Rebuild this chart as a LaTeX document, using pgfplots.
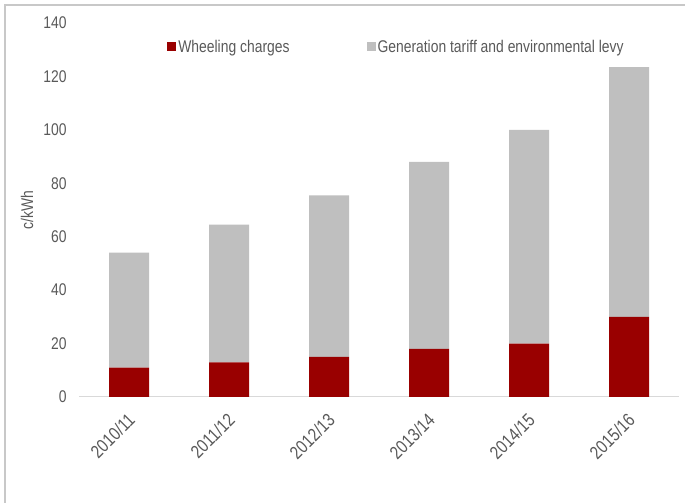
\documentclass[border=0pt]{standalone}
\usepackage{pgfplots}
\pgfplotsset{compat=1.18}
\usepackage{fontspec}
\setmainfont{Liberation Sans}[FakeStretch=0.82]
\definecolor{wred}{HTML}{990000}
\definecolor{ggray}{HTML}{BFBFBF}
\definecolor{txt}{HTML}{595959}
\definecolor{frame}{HTML}{C8C8C8}
\begin{document}
\begin{tikzpicture}[x=1bp,y=1bp]
\useasboundingbox (0,0) rectangle (685,503);
\draw[frame, line width=2.2bp] (5,0) -- (5,498) -- (685,498);
\begin{axis}[
  at={(79bp,106bp)}, anchor=south west,
  scale only axis, width=600bp, height=374bp,
  ybar stacked, bar width=0.4,
  xmin=-0.5, xmax=5.5, ymin=0, ymax=140,
  xtick={0,...,5},
  xticklabels={2010/11,2011/12,2012/13,2013/14,2014/15,2015/16},
  ytick={0,20,...,140},
  axis lines*=left,
  x axis line style={draw=black!15, line width=1bp, -},
  y axis line style={draw=none},
  tick style={draw=none},
  major tick length=0pt,
  /pgf/number format/assume math mode=true,
  ticklabel style={font=\fontsize{17}{17}\selectfont, text=txt},
  yticklabel style={xshift=-9bp},
  xticklabel style={rotate=45, anchor=east, xshift=-9bp, yshift=-16bp, font=\fontsize{18.5}{18.5}\selectfont},
  ylabel={c/kWh},
  every axis y label/.style={at={(axis description cs:-0.0867,0.5)}, rotate=90, anchor=center, font=\fontsize{17}{17}\selectfont, text=txt},
  legend columns=2,
  legend style={at={(axis description cs:0.142,0.936)}, anchor=west, draw=none, fill=none,
    font=\fontsize{17}{17}\selectfont, text=txt,
    nodes={inner sep=2bp},
    /tikz/every even column/.append style={column sep=75bp}},
  legend image code/.code={\fill[#1] (0bp,-4.5bp) rectangle (9bp,4.5bp);},
]
\addplot[fill=wred, draw=none] coordinates {(0,11) (1,13) (2,15) (3,18) (4,20) (5,30)};
\addplot[fill=ggray, draw=none] coordinates {(0,43) (1,51.5) (2,60.5) (3,70) (4,80) (5,93.5)};
\legend{Wheeling charges, Generation tariff and environmental levy}
\end{axis}
\end{tikzpicture}
\end{document}
